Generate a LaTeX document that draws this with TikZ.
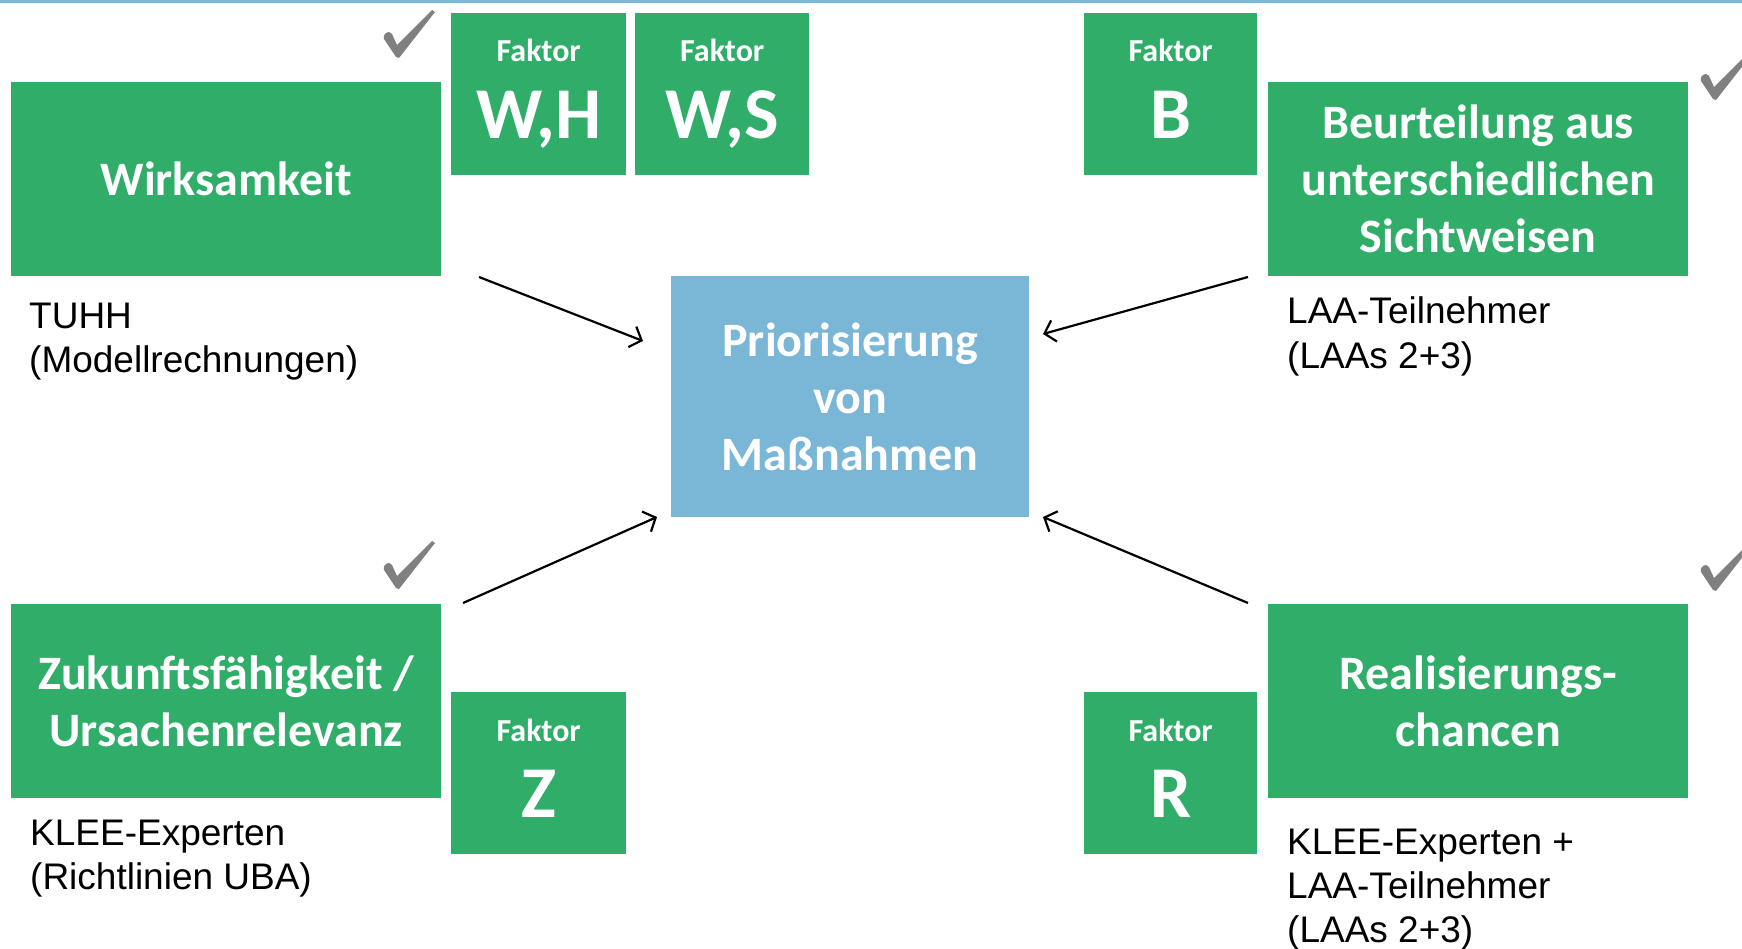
\documentclass[tikz,border=0pt]{standalone}
\usepackage{fontspec}
\setmainfont{Liberation Sans}
\newfontfamily\carl{Carlito}
\usetikzlibrary{arrows.meta}
\definecolor{gbox}{RGB}{48,174,105}
\definecolor{bbox}{RGB}{122,182,214}
\definecolor{topline}{RGB}{122,184,218}
\definecolor{ckgray}{RGB}{128,128,128}
\tikzset{
  gbox/.style={fill=gbox, draw=none, inner sep=0pt, anchor=north west, text=white, align=center,
    font=\carl\bfseries\fontsize{48}{57}\selectfont},
  fbox/.style={fill=gbox, draw=none, inner sep=0pt, anchor=north west, minimum width=175pt, minimum height=162pt},
  flab/.style={text=white, inner sep=0pt, anchor=base, font=\carl\bfseries\fontsize{32}{36}\selectfont},
  fbig/.style={text=white, inner sep=0pt, anchor=base, font=\carl\bfseries\fontsize{73}{80}\selectfont},
  src/.style={inner sep=0pt, anchor=base west, align=left, font=\fontsize{37}{44}\selectfont},
  conn/.style={line width=2.2pt, -{Straight Barb[length=10pt,width=22pt,line width=2.2pt]}},
  check/.pic={\fill[ckgray] (0,0) -- (-12,-18) .. controls (-13,-21) and (-11,-25) .. (-7,-25) -- (-4,-23) -- (1,-12) -- (36,-47) -- (39,-45) -- (3,1) -- cycle;}
}
\begin{document}
\begin{tikzpicture}[x=1pt,y=-1pt]
\useasboundingbox (0,0) rectangle (1742,949);
\fill[white] (0,0) rectangle (1742,949);
\fill[topline] (0,0) rectangle (1742,3);

% main boxes
\node[gbox, minimum width=430pt, minimum height=194pt] (wirk) at (11,82) {Wirksamkeit};
\node[gbox, minimum width=420pt, minimum height=194pt] (beur) at (1268,82) {Beurteilung aus\\unterschiedlichen\\Sichtweisen};
\node[gbox, minimum width=430pt, minimum height=194pt] (zuk) at (11,604) {Zukunftsfähigkeit /\\Ursachenrelevanz};
\node[gbox, minimum width=420pt, minimum height=194pt] (real) at (1268,604) {Realisierungs-\\chancen};
\node[gbox, fill=bbox, minimum width=358pt, minimum height=241pt] (prio) at (671,276) {Priorisierung\\von\\Maßnahmen};

% factor boxes
\node[fbox] (fwh) at (451,13) {};
\node[flab] (fwhl) at ([yshift=-49pt]fwh.north) {Faktor};
\node[fbig] (fwhb) at ([yshift=-126pt]fwh.north) {W,H};
\node[fbox, minimum width=174pt] (fws) at (635,13) {};
\node[flab] (fwsl) at ([yshift=-49pt]fws.north) {Faktor};
\node[fbig] (fwsb) at ([yshift=-126pt]fws.north) {W,S};
\node[fbox, minimum width=173pt] (fb) at (1084,13) {};
\node[flab] (fbl) at ([yshift=-49pt]fb.north) {Faktor};
\node[fbig] (fbb) at ([yshift=-126pt]fb.north) {B};
\node[fbox] (fz) at (451,692) {};
\node[flab] (fzl) at ([yshift=-49pt]fz.north) {Faktor};
\node[fbig] (fzb) at ([yshift=-125pt]fz.north) {Z};
\node[fbox, minimum width=173pt] (fr) at (1084,692) {};
\node[flab] (frl) at ([yshift=-49pt]fr.north) {Faktor};
\node[fbig] (frb) at ([yshift=-125pt]fr.north) {R};

% source texts (anchor = baseline of last line)
\node[src] (s1) at (29,373) {TUHH\\(Modellrechnungen)};
\node[src] (s2) at (1287,368) {LAA-Teilnehmer\\(LAAs 2+3)};
\node[src] (s3) at (30,889) {KLEE-Experten\\(Richtlinien UBA)};
\node[src] (s4) at (1287,942) {KLEE-Experten +\\LAA-Teilnehmer\\(LAAs 2+3)};

% checkmarks
\pic at (396,57) {check};
\pic at (396,588) {check};
\pic at (1713,99) {check};
\pic at (1713,590) {check};

% connectors
\coordinate (a1) at (479,277);
\coordinate (e1) at (643,341);
\coordinate (a2) at (1248,277);
\coordinate (e2) at (1043,334);
\coordinate (a3) at (463,603);
\coordinate (e3) at (657,517);
\coordinate (a4) at (1248,603);
\coordinate (e4) at (1043,517);
\draw[conn] (a1) -- (e1);
\draw[conn] (a2) -- (e2);
\draw[conn] (a3) -- (e3);
\draw[conn] (a4) -- (e4);
\end{tikzpicture}
\end{document}
